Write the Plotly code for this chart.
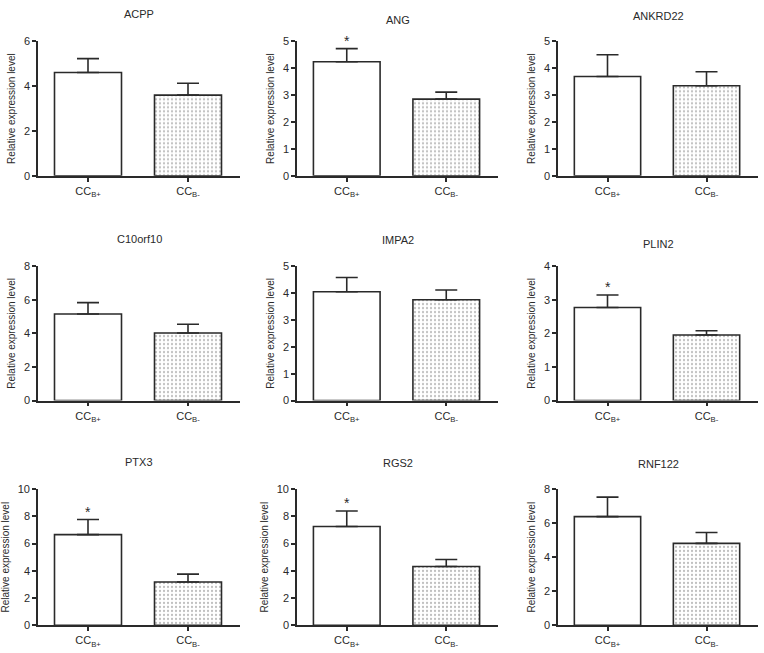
import plotly.graph_objects as go

genes = ["ACPP", "ANG", "ANKRD22", "C10orf10", "IMPA2", "PLIN2", "PTX3", "RGS2", "RNF122"]
groups = ["CC<sub>B+</sub>", "CC<sub>B-</sub>"]
bplus_mean = [4.61, 4.24, 3.69, 5.15, 4.05, 2.77, 6.65, 7.25, 6.38]
bplus_err = [0.62, 0.49, 0.81, 0.68, 0.53, 0.37, 1.11, 1.13, 1.14]
bminus_mean = [3.60, 2.85, 3.35, 4.02, 3.75, 1.95, 3.18, 4.32, 4.81]
bminus_err = [0.53, 0.26, 0.52, 0.52, 0.36, 0.13, 0.58, 0.51, 0.64]
significant = [False, True, False, False, False, True, True, True, False]
y_max = [6, 5, 5, 8, 5, 4, 10, 10, 8]
y_dtick = [2, 1, 1, 2, 1, 1, 2, 2, 2]

W, H = 764, 653
col_px = [(38, 240), (297, 498), (558, 758)]
row_px = [(36, 173), (265, 402), (492, 631)]
title_px = [8, 14, 10, 237, 238, 242, 465, 466, 467]

ink = "#2a2a2a"
font_fam = "Arial, Liberation Sans, sans-serif"
fig = go.Figure()
annotations = []
for i, g in enumerate(genes):
    r, c = divmod(i, 3)
    n = i + 1
    xa = "x" if n == 1 else f"x{n}"
    ya = "y" if n == 1 else f"y{n}"
    fig.add_trace(go.Bar(
        x=[0], y=[bplus_mean[i]], width=0.67, xaxis=xa, yaxis=ya,
        marker=dict(color="white", line=dict(color=ink, width=1.6)),
        error_y=dict(type="data", symmetric=False, array=[bplus_err[i]], arrayminus=[0],
                     color=ink, thickness=1.6, width=11),
        showlegend=False, hoverinfo="skip"))
    fig.add_trace(go.Bar(
        x=[1], y=[bminus_mean[i]], width=0.67, xaxis=xa, yaxis=ya,
        marker=dict(color="white", line=dict(color=ink, width=1.6),
                    pattern=dict(shape=".", size=4, solidity=0.25, fgcolor="#808080", bgcolor="white")),
        error_y=dict(type="data", symmetric=False, array=[bminus_err[i]], arrayminus=[0],
                     color=ink, thickness=1.6, width=11),
        showlegend=False, hoverinfo="skip"))
    x0, x1 = col_px[c]
    y0, y1 = row_px[r]
    xdom = [x0 / W, x1 / W]
    ydom = [1 - y1 / H, 1 - y0 / H]
    xkey = "xaxis" if n == 1 else f"xaxis{n}"
    ykey = "yaxis" if n == 1 else f"yaxis{n}"
    fig.layout[xkey] = dict(
        domain=xdom, anchor=ya, range=[-0.5, 1.52], tickvals=[0, 1], ticktext=groups,
        showline=True, linecolor=ink, linewidth=1.6, ticks="outside", ticklen=4,
        tickcolor=ink, tickwidth=1.6, showgrid=False, zeroline=False,
        tickfont=dict(family=font_fam, size=11, color=ink))
    fig.layout[ykey] = dict(
        domain=ydom, anchor=xa, range=[0, y_max[i]], dtick=y_dtick[i], tick0=0,
        showline=True, linecolor=ink, linewidth=1.6, ticks="outside", ticklen=4,
        tickcolor=ink, tickwidth=1.6, showgrid=False, zeroline=False,
        tickfont=dict(family=font_fam, size=11, color=ink),
        title=dict(text="Relative expression level", standoff=6,
                   font=dict(family=font_fam, size=10, color=ink)))
    annotations.append(dict(
        text=g, xref="paper", yref="paper", x=(x0 + x1) / 2 / W, y=1 - title_px[i] / H,
        xanchor="center", yanchor="middle", showarrow=False,
        font=dict(family=font_fam, size=11, color=ink)))
    if significant[i]:
        annotations.append(dict(
            text="*", xref=xa, yref=ya, x=0, y=bplus_mean[i] + bplus_err[i],
            xanchor="center", yanchor="middle", yshift=8, showarrow=False,
            font=dict(family=font_fam, size=14, color=ink)))

fig.update_layout(
    width=W, height=H, margin=dict(l=0, r=0, t=0, b=0),
    paper_bgcolor="white", plot_bgcolor="white", barmode="overlay",
    annotations=annotations)
fig.write_html("out.html", config={"displayModeBar": False},
               post_script="document.body.style.margin='0';document.body.style.overflow='hidden';")
